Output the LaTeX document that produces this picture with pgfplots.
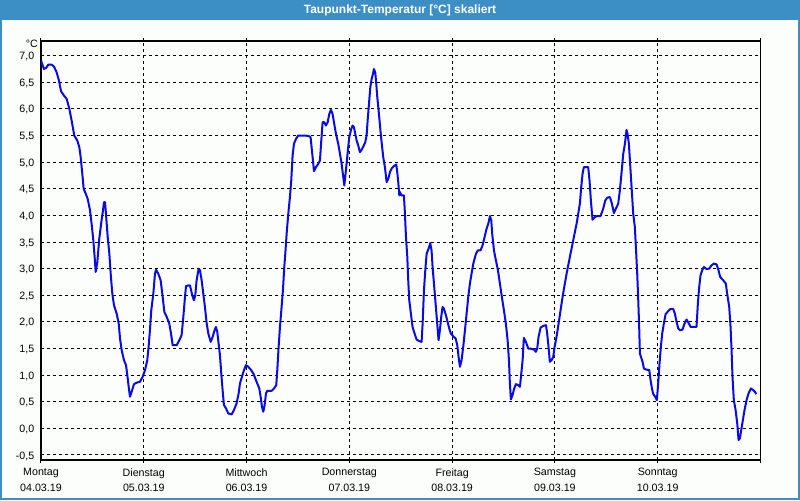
\documentclass[border=0pt]{standalone}
\usepackage{fontspec}
\setmainfont{Liberation Sans}
\usepackage{pgfplots}
\pgfplotsset{compat=1.18}
\definecolor{barblue}{RGB}{60,143,196}
\definecolor{bgwhite}{RGB}{252,254,252}
\definecolor{lineblue}{RGB}{10,10,230}
\begin{document}
\begin{tikzpicture}
\useasboundingbox (0,0) rectangle (600pt,375pt);
\fill[bgwhite] (0,0) rectangle (600pt,375pt);
\fill[barblue] (0,360pt) rectangle (600pt,375pt);
\draw[barblue, line width=1.5pt] (0.75pt,0.75pt) rectangle (599.25pt,374.25pt);
\node[text=white, font=\bfseries\fontsize{9}{10}\selectfont] at (300pt,367.5pt) {Taupunkt-Temperatur [°C] skaliert};
\node[anchor=base east, font=\fontsize{8}{9}\selectfont, inner sep=0pt] at (28.5pt,339.5pt) {°C};
\begin{axis}[
  at={(30.75pt,30pt)}, anchor=south west,
  scale only axis, width=539.6pt, height=314.25pt,
  xmin=0, xmax=7, ymin=-0.594, ymax=7.276,
  xtick={0,1,2,3,4,5,6,7},
  xticklabels={{Montag\\04.03.19},{Dienstag\\05.03.19},{Mittwoch\\06.03.19},{Donnerstag\\07.03.19},{Freitag\\08.03.19},{Samstag\\09.03.19},{Sonntag\\10.03.19},{}},
  ytick={-0.5,0,0.5,1,1.5,2,2.5,3,3.5,4,4.5,5,5.5,6,6.5,7},
  /pgf/number format/assume math mode=true,
  ticklabel style={font=\fontsize{8}{11.5}\selectfont},
  xticklabel style={align=center, yshift=-0.5pt},
  yticklabel style={xshift=0.75pt, yshift=-0.75pt, /pgf/number format/.cd, fixed, fixed zerofill, precision=1, use comma},
  grid=major,
  major grid style={black, line width=0.75pt, dash pattern=on 2.25pt off 2.25pt},
  tick align=outside, major tick length=2.25pt,
  xtick style={black, line width=0.75pt},
  ytick style={draw=none},
  axis line style={black, line width=1pt},
  axis background/.style={fill=bgwhite},
]
\addplot[lineblue, line width=1.5pt, line join=round] coordinates {
(0.000,6.906) (0.029,6.750) (0.049,6.769) (0.071,6.831) (0.104,6.831) (0.127,6.794) (0.152,6.688) (0.175,6.531) (0.195,6.331) (0.224,6.250) (0.250,6.188) (0.276,6.000) (0.298,5.781) (0.324,5.500) (0.353,5.406) (0.373,5.281) (0.386,5.094) (0.405,4.719) (0.415,4.500) (0.438,4.394) (0.454,4.313) (0.477,4.094) (0.496,3.781) (0.509,3.531) (0.522,3.219) (0.532,2.938) (0.548,3.125) (0.567,3.563) (0.587,3.875) (0.603,4.094) (0.613,4.250) (0.623,4.250) (0.632,4.031) (0.649,3.594) (0.665,3.281) (0.678,2.906) (0.694,2.531) (0.710,2.313) (0.736,2.156) (0.756,1.969) (0.769,1.688) (0.785,1.469) (0.807,1.281) (0.827,1.188) (0.840,1.000) (0.853,0.781) (0.866,0.594) (0.882,0.688) (0.905,0.831) (0.937,0.863) (0.963,0.875) (0.989,0.969) (1.012,1.094) (1.034,1.281) (1.047,1.531) (1.060,1.844) (1.073,2.219) (1.093,2.531) (1.109,2.906) (1.119,2.980) (1.141,2.906) (1.164,2.781) (1.184,2.469) (1.200,2.188)
(1.223,2.094) (1.248,1.969) (1.265,1.781) (1.281,1.563) (1.320,1.563) (1.346,1.656) (1.368,1.750) (1.385,2.094) (1.398,2.406) (1.411,2.675) (1.449,2.688) (1.472,2.500) (1.488,2.406) (1.501,2.500) (1.514,2.781) (1.534,3.000) (1.547,2.969) (1.563,2.781) (1.579,2.531) (1.595,2.281) (1.612,1.969) (1.628,1.781) (1.651,1.625) (1.670,1.719) (1.689,1.844) (1.702,1.906) (1.715,1.813) (1.728,1.594) (1.741,1.375) (1.754,1.031) (1.767,0.719) (1.780,0.438) (1.800,0.375) (1.822,0.281) (1.855,0.263) (1.877,0.344) (1.903,0.469) (1.923,0.656) (1.936,0.844) (1.955,0.969) (1.975,1.094) (1.994,1.188) (2.017,1.156) (2.040,1.106) (2.066,1.031) (2.085,0.938) (2.104,0.844) (2.124,0.750) (2.137,0.594) (2.150,0.406) (2.163,0.313) (2.176,0.438) (2.189,0.656) (2.202,0.706) (2.244,0.706) (2.267,0.750) (2.289,0.813) (2.299,1.094) (2.312,1.531) (2.325,1.906) (2.341,2.281) (2.354,2.594) (2.367,3.031)
(2.377,3.281) (2.390,3.656) (2.406,4.031) (2.422,4.344) (2.435,4.656) (2.448,5.125) (2.461,5.344) (2.481,5.438) (2.503,5.500) (2.552,5.500) (2.601,5.494) (2.623,5.469) (2.636,5.219) (2.646,5.031) (2.656,4.831) (2.675,4.906) (2.698,4.969) (2.714,5.031) (2.727,5.406) (2.740,5.750) (2.756,5.750) (2.772,5.688) (2.789,5.750) (2.805,5.906) (2.821,5.981) (2.837,5.906) (2.853,5.719) (2.870,5.531) (2.892,5.344) (2.909,5.156) (2.925,4.969) (2.941,4.719) (2.951,4.563) (2.960,4.719) (2.973,4.969) (2.986,5.219) (2.999,5.469) (3.019,5.625) (3.032,5.688) (3.045,5.656) (3.058,5.531) (3.071,5.406) (3.087,5.313) (3.103,5.188) (3.119,5.231) (3.136,5.294) (3.155,5.375) (3.168,5.500) (3.178,5.781) (3.191,6.094) (3.204,6.406) (3.217,6.563) (3.230,6.656) (3.239,6.750) (3.252,6.688) (3.262,6.469) (3.272,6.219) (3.285,5.969) (3.294,5.781) (3.304,5.563) (3.314,5.375) (3.330,5.094) (3.346,4.906) (3.363,4.625) (3.379,4.688) (3.395,4.813) (3.414,4.888) (3.437,4.931) (3.457,4.956) (3.466,4.813) (3.476,4.625) (3.486,4.375) (3.492,4.440) (3.508,4.375) (3.531,4.375)
(3.541,4.031) (3.551,3.594) (3.564,3.219) (3.573,2.781) (3.583,2.406) (3.599,2.156) (3.615,1.906) (3.635,1.781) (3.654,1.669) (3.680,1.638) (3.703,1.625) (3.713,1.969) (3.726,2.594) (3.739,2.969) (3.752,3.281) (3.771,3.375) (3.787,3.481) (3.800,3.344) (3.810,3.031) (3.826,2.656) (3.842,2.281) (3.855,1.969) (3.868,1.656) (3.881,1.844) (3.894,2.094) (3.907,2.281) (3.920,2.250) (3.940,2.125) (3.956,2.000) (3.972,1.875) (3.988,1.781) (4.011,1.731) (4.034,1.688) (4.050,1.563) (4.063,1.344) (4.076,1.156) (4.092,1.281) (4.108,1.531) (4.125,1.844) (4.141,2.156) (4.157,2.469) (4.173,2.719) (4.189,2.906) (4.206,3.094) (4.232,3.281) (4.251,3.344) (4.277,3.344) (4.296,3.438) (4.316,3.594) (4.335,3.750) (4.352,3.844) (4.368,3.988) (4.381,3.906) (4.390,3.656) (4.407,3.344) (4.426,3.156) (4.446,2.969) (4.465,2.719) (4.484,2.469) (4.504,2.219) (4.523,1.969) (4.540,1.656) (4.553,1.281) (4.562,0.844) (4.572,0.544) (4.588,0.625) (4.604,0.750) (4.621,0.831) (4.643,0.813) (4.660,0.781) (4.673,1.031) (4.686,1.281)
(4.698,1.700) (4.718,1.625) (4.741,1.500) (4.773,1.494) (4.796,1.481) (4.815,1.438) (4.828,1.500) (4.841,1.719) (4.861,1.894) (4.887,1.925) (4.913,1.938) (4.925,1.781) (4.938,1.531) (4.951,1.250) (4.968,1.281) (4.984,1.344) (4.997,1.531) (5.016,1.719) (5.036,1.969) (5.055,2.219) (5.075,2.469) (5.091,2.656) (5.114,2.906) (5.133,3.094) (5.152,3.281) (5.172,3.469) (5.191,3.656) (5.211,3.844) (5.227,4.031) (5.243,4.219) (5.256,4.531) (5.269,4.781) (5.282,4.906) (5.324,4.906) (5.337,4.656) (5.350,4.281) (5.366,3.919) (5.389,3.969) (5.412,3.988) (5.444,3.988) (5.470,4.125) (5.490,4.281) (5.509,4.331) (5.535,4.344) (5.555,4.219) (5.574,4.044) (5.593,4.125) (5.616,4.219) (5.632,4.469) (5.649,4.813) (5.665,5.156) (5.681,5.344) (5.697,5.606) (5.707,5.531) (5.720,5.344) (5.730,5.031) (5.746,4.531) (5.762,4.031) (5.778,3.781) (5.788,3.406) (5.801,2.906) (5.811,2.406) (5.820,1.906) (5.827,1.406)
(5.837,1.344) (5.853,1.250) (5.866,1.125) (5.885,1.106) (5.918,1.094) (5.931,0.906) (5.944,0.750) (5.957,0.644) (5.976,0.594) (5.992,0.531) (6.005,0.844) (6.018,1.219) (6.031,1.531) (6.044,1.781) (6.060,1.969) (6.077,2.144) (6.103,2.206) (6.125,2.244) (6.151,2.244) (6.167,2.156) (6.184,2.000) (6.200,1.875) (6.216,1.844) (6.242,1.856) (6.261,1.969) (6.281,2.044) (6.304,1.969) (6.320,1.906) (6.346,1.906) (6.378,1.906) (6.391,2.344) (6.404,2.656) (6.417,2.875) (6.433,2.969) (6.449,3.031) (6.475,2.994) (6.501,3.000) (6.524,3.063) (6.547,3.094) (6.573,3.081) (6.592,2.969) (6.608,2.844) (6.638,2.781) (6.663,2.719) (6.676,2.531) (6.696,2.281) (6.709,1.906) (6.719,1.469) (6.728,0.969) (6.741,0.531) (6.758,0.344) (6.774,0.094) (6.787,-0.219) (6.800,-0.188) (6.813,-0.031) (6.829,0.156) (6.845,0.344) (6.865,0.531) (6.884,0.656) (6.907,0.750) (6.929,0.719) (6.946,0.688) (6.959,0.644)
};
\end{axis}
\end{tikzpicture}
\end{document}
